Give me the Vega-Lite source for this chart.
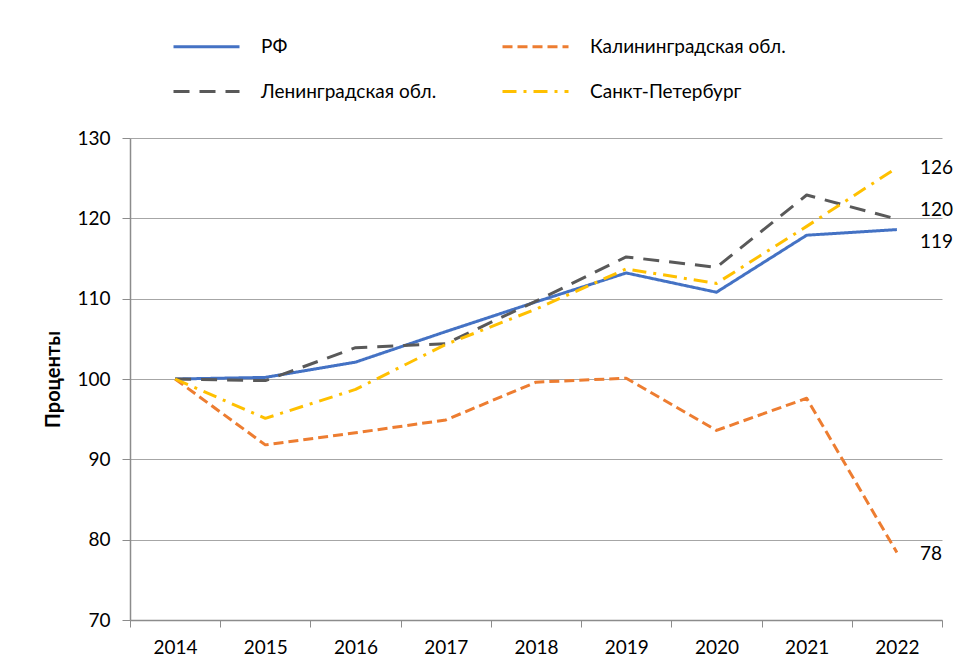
{
  "$schema": "https://vega.github.io/schema/vega-lite/v6.json",
  "width": 812,
  "height": 482,
  "autosize": {"type": "none"},
  "padding": {"left": 130, "top": 138, "right": 20, "bottom": 50},
  "background": "white",
  "config": {
    "font": "Lato",
    "view": {"stroke": null}
  },
  "data": {
    "values": [
      {"year": "2014", "region": "РФ", "value": 100},
      {"year": "2015", "region": "РФ", "value": 100.2},
      {"year": "2016", "region": "РФ", "value": 102.1},
      {"year": "2017", "region": "РФ", "value": 105.9},
      {"year": "2018", "region": "РФ", "value": 109.6},
      {"year": "2019", "region": "РФ", "value": 113.2},
      {"year": "2020", "region": "РФ", "value": 110.8},
      {"year": "2021", "region": "РФ", "value": 117.9},
      {"year": "2022", "region": "РФ", "value": 118.6},
      {"year": "2014", "region": "Калининградская обл.", "value": 100},
      {"year": "2015", "region": "Калининградская обл.", "value": 91.8},
      {"year": "2016", "region": "Калининградская обл.", "value": 93.3},
      {"year": "2017", "region": "Калининградская обл.", "value": 94.9},
      {"year": "2018", "region": "Калининградская обл.", "value": 99.6},
      {"year": "2019", "region": "Калининградская обл.", "value": 100.1},
      {"year": "2020", "region": "Калининградская обл.", "value": 93.6},
      {"year": "2021", "region": "Калининградская обл.", "value": 97.6},
      {"year": "2022", "region": "Калининградская обл.", "value": 78.4},
      {"year": "2014", "region": "Ленинградская обл.", "value": 100},
      {"year": "2015", "region": "Ленинградская обл.", "value": 99.8},
      {"year": "2016", "region": "Ленинградская обл.", "value": 103.9},
      {"year": "2017", "region": "Ленинградская обл.", "value": 104.4},
      {"year": "2018", "region": "Ленинградская обл.", "value": 109.7},
      {"year": "2019", "region": "Ленинградская обл.", "value": 115.2},
      {"year": "2020", "region": "Ленинградская обл.", "value": 113.9},
      {"year": "2021", "region": "Ленинградская обл.", "value": 122.9},
      {"year": "2022", "region": "Ленинградская обл.", "value": 119.9},
      {"year": "2014", "region": "Санкт-Петербург", "value": 100},
      {"year": "2015", "region": "Санкт-Петербург", "value": 95.1},
      {"year": "2016", "region": "Санкт-Петербург", "value": 98.7},
      {"year": "2017", "region": "Санкт-Петербург", "value": 104.3},
      {"year": "2018", "region": "Санкт-Петербург", "value": 108.7},
      {"year": "2019", "region": "Санкт-Петербург", "value": 113.7},
      {"year": "2020", "region": "Санкт-Петербург", "value": 111.9},
      {"year": "2021", "region": "Санкт-Петербург", "value": 119.0},
      {"year": "2022", "region": "Санкт-Петербург", "value": 126.3}
    ]
  },
  "encoding": {
    "x": {
      "field": "year",
      "type": "ordinal",
      "bandPosition": 0.5,
      "scale": {"type": "band", "paddingInner": 0, "paddingOuter": 0},
      "axis": {
        "title": null,
        "labelAngle": 0,
        "labelFontSize": 19,
        "labelColor": "#000000",
        "labelPadding": 11,
        "tickBand": "extent",
        "tickSize": 7,
        "tickColor": "#8c8c8c",
        "domainColor": "#8c8c8c",
        "domainWidth": 1.5,
        "grid": false
      }
    },
    "y": {
      "field": "value",
      "type": "quantitative",
      "scale": {"domain": [70, 130], "nice": false, "zero": false},
      "axis": {
        "title": "Проценты",
        "titleFontSize": 20,
        "titleFontWeight": "bold",
        "titleColor": "#000000",
        "titlePadding": 13,
        "values": [70, 80, 90, 100, 110, 120, 130],
        "labelFontSize": 19,
        "labelColor": "#000000",
        "labelPadding": 12,
        "tickSize": 8,
        "tickColor": "#8c8c8c",
        "domainColor": "#8c8c8c",
        "domainWidth": 1.5,
        "gridColor": "#a6a6a6",
        "gridWidth": 1
      }
    }
  },
  "layer": [
    {
      "mark": {"type": "line", "strokeWidth": 3, "strokeCap": "butt", "strokeJoin": "round"},
      "encoding": {
        "color": {
          "field": "region",
          "type": "nominal",
          "scale": {
            "domain": ["РФ", "Ленинградская обл.", "Калининградская обл.", "Санкт-Петербург"],
            "range": ["#4472C4", "#595959", "#ED7D31", "#FFC000"]
          },
          "legend": {
            "title": null,
            "orient": "none",
            "legendX": 42,
            "legendY": -126,
            "columns": 2,
            "columnPadding": 59,
            "rowPadding": 0,
            "symbolType": "stroke",
            "symbolSize": 4356,
            "symbolStrokeWidth": 3,
            "labelFontSize": 19,
            "labelColor": "#000000",
            "labelOffset": 20,
            "labelLimit": 300
          }
        },
        "strokeDash": {
          "field": "region",
          "type": "nominal",
          "scale": {
            "domain": ["РФ", "Ленинградская обл.", "Калининградская обл.", "Санкт-Петербург"],
            "range": [[1, 0], [16, 10], [10, 5], [14, 7, 3, 7]]
          },
          "legend": {
            "title": null,
            "orient": "none",
            "legendX": 42,
            "legendY": -126,
            "columns": 2,
            "columnPadding": 59,
            "rowPadding": 0,
            "symbolType": "stroke",
            "symbolSize": 4356,
            "symbolStrokeWidth": 3,
            "labelFontSize": 19,
            "labelColor": "#000000",
            "labelOffset": 20,
            "labelLimit": 300
          }
        }
      }
    },
    {
      "transform": [{"filter": "datum.year == '2022' && datum.region == 'Санкт-Петербург'"}],
      "mark": {"type": "text", "align": "left", "baseline": "middle", "dx": 23, "dy": 0, "fontSize": 19, "color": "#000000"},
      "encoding": {"text": {"field": "value", "type": "quantitative", "format": ".0f"}}
    },
    {
      "transform": [{"filter": "datum.year == '2022' && datum.region == 'Калининградская обл.'"}],
      "mark": {"type": "text", "align": "left", "baseline": "middle", "dx": 23, "dy": 1, "fontSize": 19, "color": "#000000"},
      "encoding": {"text": {"field": "value", "type": "quantitative", "format": ".0f"}}
    },
    {
      "transform": [{"filter": "datum.year == '2022' && datum.region == 'Ленинградская обл.'"}],
      "mark": {"type": "text", "align": "left", "baseline": "middle", "dx": 23, "dy": -9, "fontSize": 19, "color": "#000000"},
      "encoding": {"text": {"field": "value", "type": "quantitative", "format": ".0f"}}
    },
    {
      "transform": [{"filter": "datum.year == '2022' && datum.region == 'РФ'"}],
      "mark": {"type": "text", "align": "left", "baseline": "middle", "dx": 23, "dy": 12, "fontSize": 19, "color": "#000000"},
      "encoding": {"text": {"field": "value", "type": "quantitative", "format": ".0f"}}
    }
  ]
}
